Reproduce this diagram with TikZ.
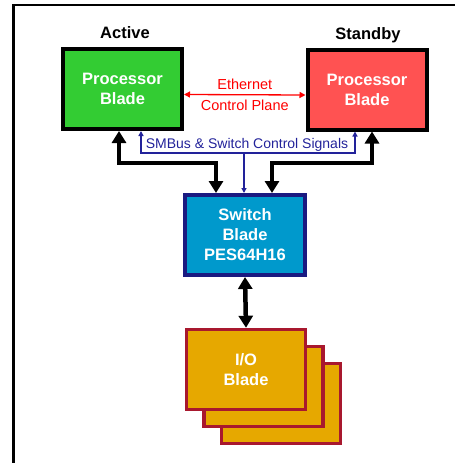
\documentclass[tikz,border=0pt]{standalone}
\usepackage{fontspec}
\setmainfont{Liberation Sans}
\usepackage{tikz}
\usetikzlibrary{arrows.meta, positioning}
\usepackage{xcolor}

\definecolor{actgreen}{HTML}{33CC33}
\definecolor{stbyred}{HTML}{FF5252}
\definecolor{swblue}{HTML}{0099CC}
\definecolor{swnavy}{HTML}{1A1A80}
\definecolor{sigblue}{HTML}{22229A}
\definecolor{ioyellow}{HTML}{E6A800}
\definecolor{iored}{HTML}{A8182E}

\begin{document}
\begin{tikzpicture}[x=1pt,y=-1pt]
  \tikzstyle{blade}=[draw, line width=4pt, minimum width=119pt, minimum height=80pt,
    align=center, text=white, font=\fontsize{16.5}{20}\selectfont\bfseries]
  \tikzstyle{ioblade}=[blade, draw=iored, fill=ioyellow, line width=3.5pt,
    minimum width=119pt, minimum height=80pt]
  \tikzstyle{title}=[inner sep=0pt, anchor=base, font=\fontsize{16.5}{20}\selectfont\bfseries]
  \tikzstyle{bus}=[line width=4.5pt, {Triangle[width=14pt,length=12pt]}-{Triangle[width=14pt,length=12pt]}]
  \tikzstyle{sig}=[draw=sigblue, line width=1.3pt]

  \useasboundingbox (0,0) rectangle (455,463);
  % frame
  \draw[line width=2.5pt] (13.5,463) -- (13.5,5) -- (455,5);

  \node[blade, fill=actgreen]          (act)  at (122.5,89) {Processor\\Blade};
  \node[blade, fill=stbyred]           (stby) at (367,89.5) {Processor\\Blade};
  \node[title] (actlbl)  at ([xshift=2.5pt, yshift=8.5pt]act.north)  {Active};
  \node[title] (stbylbl) at ([xshift=1pt, yshift=8pt]stby.north)    {Standby};

  \node[blade, draw=swnavy, fill=swblue, minimum width=120pt] (sw) at (245,235)
    {Switch\\Blade\\PES64H16};

  % I/O blades, back to front
  \node[ioblade] (io3) at (281,403.5) {};
  \node[ioblade] (io2) at (263.5,386.5) {};
  \node[ioblade] (io1) at (246,369.5) {I/O\\Blade};

  % ethernet
  \draw[red, line width=1.3pt, {Triangle[width=6pt,length=6pt]}-{Triangle[width=6pt,length=6pt]}]
    ([yshift=-5.5pt]act.east) -- ([yshift=-5.5pt]stby.west)
    node[midway, above=1pt, font=\fontsize{14.5}{16}\selectfont] {Ethernet}
    node[midway, below=1pt, font=\fontsize{14.5}{16}\selectfont] {Control Plane};

  % data paths
  \coordinate (ljoin) at (216,163);
  \coordinate (rjoin) at (272,163);
  \draw[bus] ([xshift=-3.5pt]act.south) |- (ljoin) -- (ljoin |- sw.north);
  \draw[bus] ([xshift=5pt]stby.south) |- (rjoin) -- (rjoin |- sw.north);
  \draw[bus] (sw.south) -- (io1.north);

  % control signals
  \coordinate (bjoin) at (244,153);
  \draw[sig, {Triangle[width=5pt,length=5pt]}-{Triangle[width=5pt,length=5pt]}]
    ([xshift=18.5pt]act.south) |- (bjoin) -| ([xshift=-12pt]stby.south);
  \draw[sig, -{Triangle[width=5pt,length=5pt]}] (bjoin) -- (bjoin |- sw.north);
  \node[text=sigblue, inner sep=0pt, font=\fontsize{14}{16}\selectfont] (smbus) at (247,144.5)
    {SMBus \& Switch Control Signals};
\end{tikzpicture}
\end{document}
